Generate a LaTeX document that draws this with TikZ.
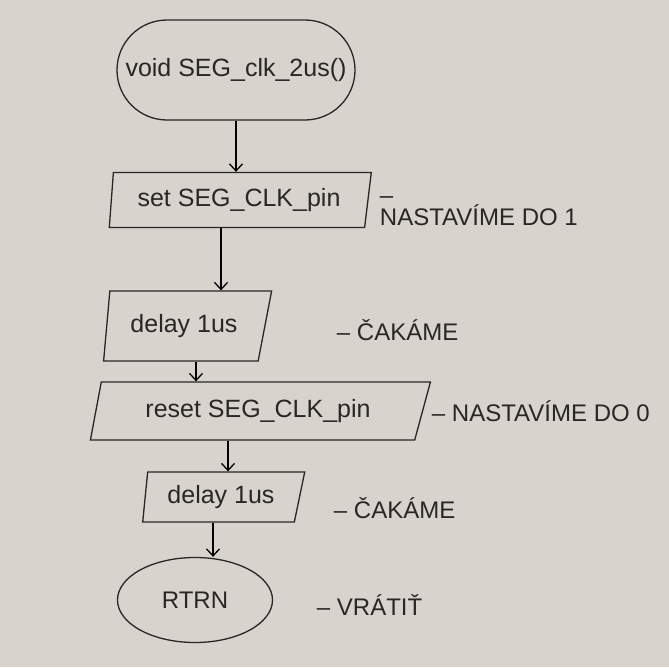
\documentclass[tikz,border=0pt]{standalone}
\usepackage{fontspec}
\setmainfont{Liberation Sans}
\usetikzlibrary{shapes.geometric, shapes.misc, arrows.meta, positioning}

\definecolor{paper}{RGB}{216,212,205}
\definecolor{pen}{RGB}{40,38,38}

\tikzset{
  term/.style={draw=pen, rounded rectangle, inner sep=0pt, font=\fontsize{25}{28}\selectfont},
  iobox/.style={draw=pen, trapezium, trapezium left angle=75, trapezium right angle=105,
                trapezium stretches body, inner sep=0pt, font=\fontsize{25}{30}\selectfont},
  note/.style={anchor=west, text=pen, font=\fontsize{24}{28}\selectfont},
}

\begin{document}
\begin{tikzpicture}[x=1pt,y=1pt,line width=1.3pt,text=pen,>={Straight Barb[length=7pt,width=13pt]}]
\useasboundingbox (0,0) rectangle (669,-667);
\fill [paper] (0,0) rectangle (669,-667);

\node [term, minimum width=238pt, minimum height=100pt] (start) at (236,-70) {void SEG\_clk\_2us()};
\node [iobox, trapezium left angle=80, trapezium right angle=106, minimum width=262pt, minimum height=55pt] [below of=start, node distance=130pt, xshift=3pt] (set) {set SEG\_CLK\_pin};
\node [iobox, trapezium left angle=75, trapezium right angle=120, minimum width=168pt, minimum height=70pt] [below of=set, node distance=126pt, xshift=-55pt] (dly1) {delay 1us};
\node [iobox, trapezium left angle=65, trapezium right angle=124, minimum width=340pt, minimum height=58pt] [below of=dly1, node distance=85pt, xshift=74pt] (reset) {reset SEG\_CLK\_pin};
\node [iobox, trapezium left angle=78, trapezium right angle=114, minimum width=162pt, minimum height=50pt] [below of=reset, node distance=86pt, xshift=-37pt] (dly2) {delay 1us};
\node [draw=pen, ellipse, inner sep=0pt, minimum width=155pt, minimum height=85pt, font=\fontsize{24}{28}\selectfont] [below of=dly2, node distance=103pt, xshift=-26pt] (end) {RTRN};

% sipky
\draw [->] (start.south) -- (start.south |- set.north);
\coordinate (a2) at ([xshift=-18pt]set.south);
\draw [->] (a2) -- (a2 |- dly1.north);
\coordinate (a3) at ([xshift=12pt]dly1.south);
\draw [->] (a3) -- (a3 |- reset.north);
\coordinate (a4) at ([xshift=-30pt]reset.south);
\draw [->] (a4) -- (a4 |- dly2.north);
\coordinate (a5) at ([xshift=-8pt]dly2.south);
\draw [->] (a5) -- (a5 |- end.north);

% poznamky
\node [note, anchor=north west, align=left, font=\fontsize{24}{22}\selectfont] (n1) at (376,-193) {–\\NASTAVÍME DO 1};
\node [note] (n2) at (333,-330) {– ČAKÁME};
\node [note] (n3) at (428,-411) {– NASTAVÍME DO 0};
\node [note] (n4) at (330,-508) {– ČAKÁME};
\node [note] (n5) at (313,-605) {– VRÁTIŤ};
\end{tikzpicture}
\end{document}
